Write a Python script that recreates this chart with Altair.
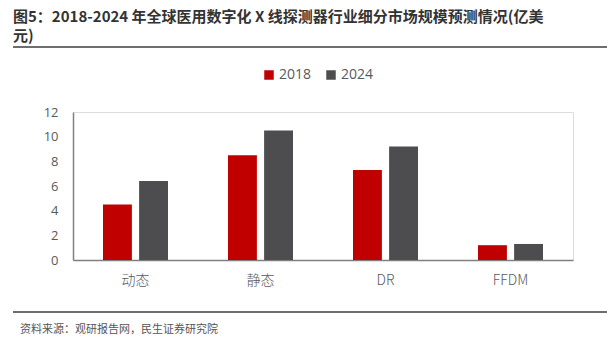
import altair as alt
import pandas as pd

categories = ["动态", "静态", "DR", "FFDM"]
years = ["2018", "2024"]
values_2018 = [4.5, 8.5, 7.3, 1.2]
values_2024 = [6.4, 10.5, 9.2, 1.3]
colors = ["#C00000", "#4D4D4F"]

title_line1 = "图5：2018-2024 年全球医用数字化 X 线探测器行业细分市场规模预测情况(亿美"
title_line2 = "元)"
source_text = "资料来源：观研报告网，民生证券研究院"

rows = []
for c, a, b in zip(categories, values_2018, values_2024):
    rows.append({"cat": c, "year": years[0], "value": a})
    rows.append({"cat": c, "year": years[1], "value": b})
df = pd.DataFrame(rows)

W, H = 500, 148
CJK = "Noto Sans CJK SC"
LAT = "Open Sans"

bars = alt.Chart(df).mark_bar().encode(
    x=alt.X("cat:N", sort=categories, title=None,
            scale=alt.Scale(paddingInner=0.48, paddingOuter=0.24),
            axis=alt.Axis(labelAngle=0, labelFont=CJK, labelFontSize=14,
                          labelFontWeight=300,
                          labelColor="#595959", labelPadding=13, ticks=False,
                          domainColor="#808080", domainWidth=1.5)),
    xOffset=alt.XOffset("year:N", sort=years,
                        scale=alt.Scale(paddingInner=0.2)),
    y=alt.Y("value:Q", title=None,
            scale=alt.Scale(domain=[0, 12]),
            axis=alt.Axis(values=[0, 2, 4, 6, 8, 10, 12], grid=False, ticks=False,
                          labelFont=LAT, labelFontSize=13,
                          labelColor="#595959", labelPadding=15,
                          domainColor="#808080", domainWidth=1.5)),
    color=alt.Color("year:N", sort=years,
                    scale=alt.Scale(domain=years, range=colors),
                    legend=alt.Legend(title=None, orient="none", direction="horizontal",
                                      legendX=189, legendY=-44,
                                      symbolType="square", symbolSize=90,
                                      symbolStrokeWidth=0,
                                      labelFont=LAT, labelFontSize=14,
                                      labelColor="#595959", columnPadding=12,
                                      symbolOffset=0, labelOffset=3)),
)

one = alt.Data(values=[{"a": 1}])

t1 = alt.Chart(one).mark_text(align="left", baseline="alphabetic", font=CJK,
                              fontSize=15, fontWeight="bold", color="#333333").encode(
    x=alt.value(-60), y=alt.value(-90), text=alt.value(title_line1))
t2 = alt.Chart(one).mark_text(align="left", baseline="alphabetic", font=CJK,
                              fontSize=15, fontWeight="bold", color="#333333").encode(
    x=alt.value(-60), y=alt.value(-71), text=alt.value(title_line2))
line_top = alt.Chart(one).mark_rule(color="#6E6E6E", strokeWidth=2).encode(
    x=alt.value(-60), x2=alt.value(534), y=alt.value(-65))
line_bot = alt.Chart(one).mark_rule(color="#6E6E6E", strokeWidth=2).encode(
    x=alt.value(-60), x2=alt.value(534), y=alt.value(200))
src = alt.Chart(one).mark_text(align="left", baseline="middle", font=CJK,
                               fontSize=11, color="#555555").encode(
    x=alt.value(-53), y=alt.value(218), text=alt.value(source_text))

chart = alt.layer(bars, t1, t2, line_top, line_bot, src).properties(
    width=W, height=H,
    autosize=alt.AutoSizeParams(type="none"),
    padding={"left": 73, "top": 112, "right": 34, "bottom": 96},
).configure_view(stroke=None).configure(background="white")

chart.save("out.html", embed_options={"renderer": "svg", "actions": False})
